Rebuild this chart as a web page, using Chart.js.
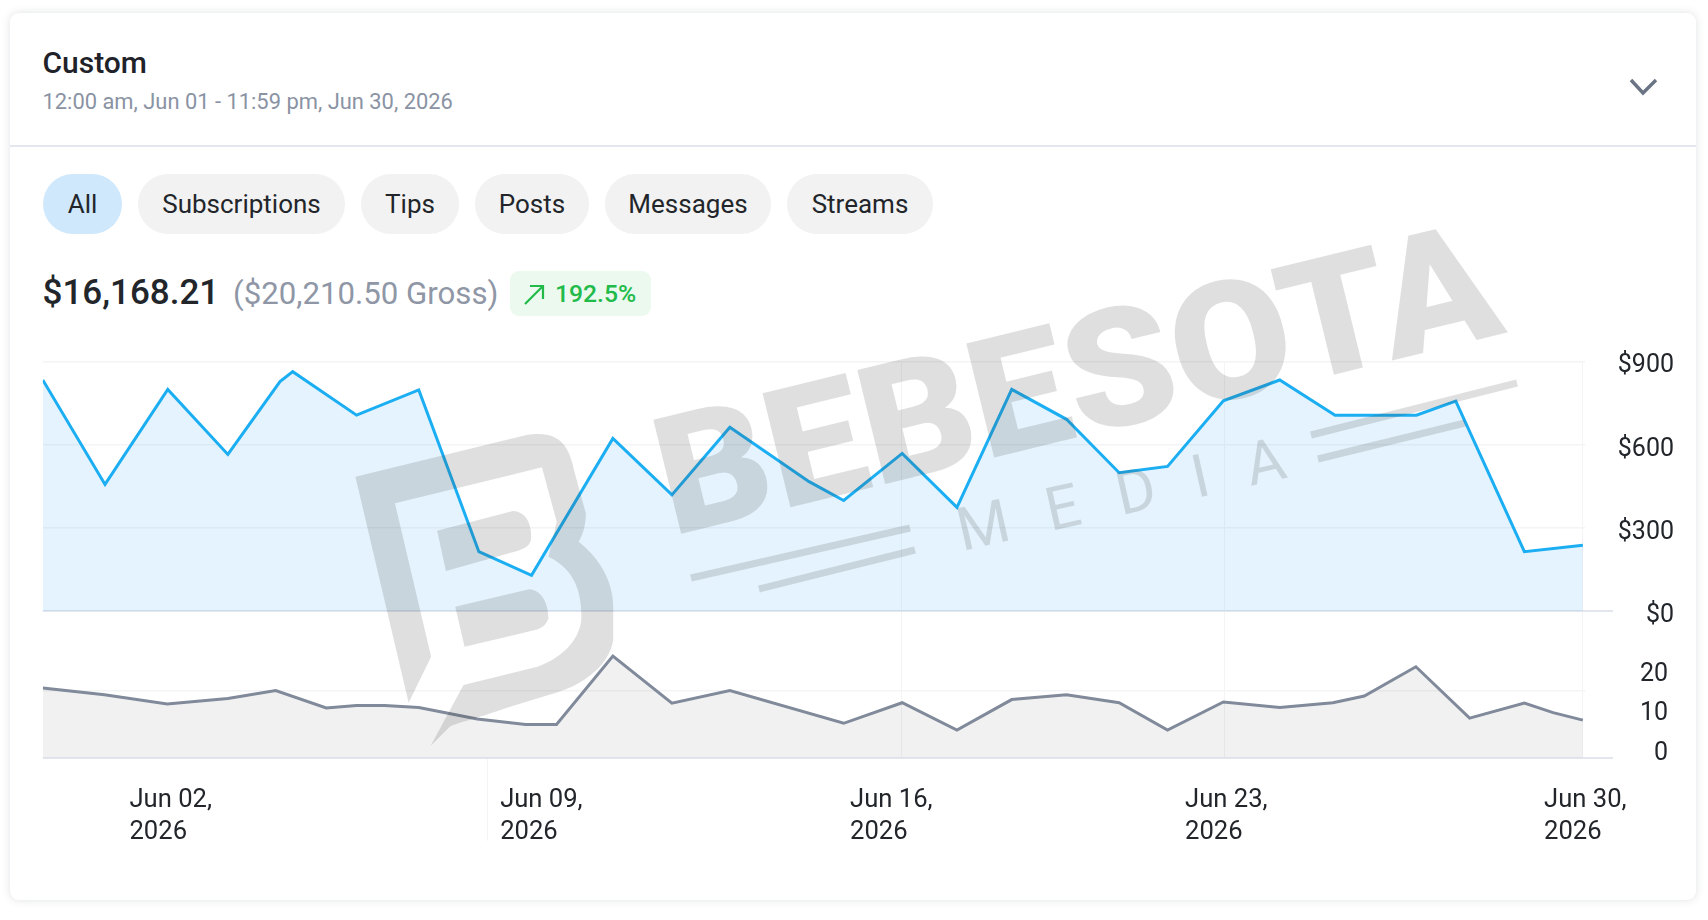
<!DOCTYPE html>
<html><head><meta charset="utf-8">
<script src="https://cdn.jsdelivr.net/npm/chart.js@4/dist/chart.umd.min.js"></script>
<style>
html,body{margin:0;padding:0;background:#fff;width:1708px;height:920px;overflow:hidden;font-family:Roboto,sans-serif;color:#1f2329}
.abs{position:absolute;white-space:nowrap}
#card{left:10px;top:13px;width:1686px;height:887px;border-radius:9px;background:#fff;box-shadow:0 0 8px rgba(60,70,90,.16)}
#divider{left:10px;top:145px;width:1686px;height:2px;background:#e4e7ed}
.pill{top:174px;height:60px;line-height:60px;border-radius:30px;background:#f2f2f2;text-align:center;font-size:26px;color:#22262b}
#chartBox{left:0;top:0;width:1708px;height:920px}
#mark{left:0;top:0;pointer-events:none}
</style></head><body>
<div class="abs" id="card"></div>
<div class="abs" id="divider"></div>
<div class="abs" style="left:42.5px;top:44px;font-size:30px;font-weight:500;line-height:38px">Custom</div>
<div class="abs" style="left:42.5px;top:88px;font-size:21.9px;line-height:28px;color:#8a93a3">12:00 am, Jun 01 - 11:59 pm, Jun 30, 2026</div>
<svg class="abs" width="1708" height="920" style="left:0;top:0"><polyline points="1631,80 1643,93 1656,80" fill="none" stroke="#6b7484" stroke-width="3.4"/></svg>
<div class="abs pill" style="left:43px;width:79px;background:#cfe8fb">All</div>
<div class="abs pill" style="left:138px;width:207px">Subscriptions</div>
<div class="abs pill" style="left:361px;width:98px">Tips</div>
<div class="abs pill" style="left:475px;width:114px">Posts</div>
<div class="abs pill" style="left:605px;width:166px">Messages</div>
<div class="abs pill" style="left:787px;width:146px">Streams</div>
<div class="abs" style="left:42.5px;top:270px;font-size:35px;font-weight:500;line-height:46px;color:#22262b">$16,168.21</div>
<div class="abs" style="left:233px;top:273px;font-size:31.2px;line-height:42px;color:#8f97a6">($20,210.50 Gross)</div>
<div class="abs" style="left:510px;top:271px;width:141px;height:45px;border-radius:9px;background:#ebf9ef"></div>
<svg class="abs" width="1708" height="920" style="left:0;top:0"><path d="M525 304 L543 286 M530 286 H543 V299" fill="none" stroke="#22bb4a" stroke-width="2.2"/></svg>
<div class="abs" style="left:555px;top:278px;font-size:24.7px;font-weight:500;line-height:32px;color:#22bb4a">192.5%</div>
<div class="abs" id="chartBox"><canvas id="c" width="1708" height="920" style="width:1708px;height:920px;display:block"></canvas></div>
<svg class="abs" id="mark" width="1708" height="920" style="opacity:.16">
<g fill="#3c3c3c">
<text x="672" y="536" transform="rotate(-13.7 672 536)" font-family="Roboto" font-weight="900" font-size="165" textLength="860" lengthAdjust="spacingAndGlyphs">BEBESOTA</text>
<text x="962" y="551" transform="rotate(-12.7 962 551)" font-family="Roboto" font-weight="400" font-size="60" textLength="335" lengthAdjust="spacing">MEDIA</text>
<g transform="translate(0,340) scale(0.5485,0.3333)">
<path d="M648 410 L960 285 C1030 265 1040 340 1048 400 L1068 520 C1068 560 1062 585 1055 605 C1090 650 1118 720 1118 800 L1118 900 C1110 980 1060 1040 1000 1065 L930 1100 C880 1130 830 1150 820 1160 L785 1218 L845 1035 L980 980 C1030 950 1060 890 1060 830 C1060 760 1050 690 1000 650 L1015 545 L988 382 L720 490 L786 950 L745 1088 Z"/>
<path d="M797 572 L935 513 C965 515 970 570 968 600 C965 620 955 625 945 632 L813 693 Z"/>
<path d="M830 800 L965 748 C990 750 1000 800 1000 835 C995 860 985 868 968 873 L847 920 Z"/>
</g>
</g>
<g stroke="#3c3c3c" stroke-width="7" fill="none">
<path d="M691 578 L910 528"/><path d="M759 589 L915 550"/>
<path d="M1311 435 L1517 383"/><path d="M1318 459 L1465 423"/>
</g>
</svg>
<script>
const revenueDays=[1,2.17,3.35,4.48,5.46,5.70,6.90,8.07,9.20,10.19,11.72,12.83,13.92,15.41,16.06,17.16,18.19,19.22,20.25,21.24,22.15,23.20,24.26,25.30,26.83,27.57,28.86,29.96];
const revenueValues=[834,457,800,565,828,864,707,798,214,129,623,419,663,467,399,569,374,800,692,499,522,759,834,707,707,758,214,237];
const countDays=[1,2.16,3.34,4.48,5.38,6.33,6.90,7.42,8.07,9.17,10.08,10.66,11.72,12.83,13.92,16.06,17.16,18.19,19.22,20.25,21.24,22.15,23.20,24.26,25.26,25.85,26.82,27.83,28.86,29.40,29.96];
const countValues=[17.6,15.9,13.6,15,17,12.6,13.2,13.2,12.7,9.8,8.4,8.4,25.7,13.8,17,8.7,13.9,7,14.7,15.9,13.9,7,14.1,12.7,13.9,15.6,23,10,13.8,11.4,9.5];
const dateLabels=[["Jun 02,","2026"],["Jun 09,","2026"],["Jun 16,","2026"],["Jun 23,","2026"],["Jun 30,","2026"]];
const dateLabelTicks=[2.63,9.60,16.18,22.48,29.23];
const chartGridTicks=[17.14,23.23,29.96];
const belowAxisTick=[9.37];
const revenueTicks=[0,300,600,900];
const countTicks=[0,10,20];
const countGridTick=16.9;
const pts=(xs,ys)=>xs.map((x,i)=>({x,y:ys[i]}));
const GRID='#f3f4f6',ZERO='#e3e6ec',NONE='rgba(0,0,0,0)';
const tickFont={family:'Roboto',size:25.6,lineHeight:1.25};
const yFont={family:'Roboto',size:25};
const labelEdges={id:'labelEdges',afterLayout(chart){chart.scales.yRevenue.right=1674;chart.scales.yCount.right=1668;}};
new Chart(document.getElementById('c'),{
 type:'line',
 plugins:[labelEdges],
 data:{datasets:[
  {label:'Earnings',data:pts(revenueDays,revenueValues),yAxisID:'yRevenue',xAxisID:'x',borderColor:'#1caef2',backgroundColor:'rgba(20,150,235,.115)',borderWidth:3,pointRadius:0,tension:0,fill:'origin'},
  {label:'Count',data:pts(countDays,countValues),yAxisID:'yCount',xAxisID:'x',borderColor:'#808a9a',backgroundColor:'rgba(0,0,0,.055)',borderWidth:3,pointRadius:0,tension:0,fill:'origin'}
 ]},
 options:{
  responsive:false,animation:false,devicePixelRatio:1,
  layout:{padding:{left:42.8,top:361.7,right:0,bottom:0}},
  plugins:{legend:{display:false},tooltip:{enabled:false}},
  scales:{
   x:{type:'linear',min:1,max:30,position:'bottom',border:{display:false},
    afterBuildTicks(s){s.ticks=[...dateLabelTicks,...chartGridTicks,...belowAxisTick].map(value=>({value}));},
    afterFit(s){s.height=162.3;},
    grid:{tickLength:83,
     color:c=>chartGridTicks.includes(c.tick&&c.tick.value)?GRID:NONE,
     tickColor:c=>belowAxisTick.includes(c.tick&&c.tick.value)?GRID:NONE},
    ticks:{autoSkip:false,maxRotation:0,align:'start',padding:-56,color:'#22262b',font:tickFont,
     callback(v){const i=dateLabelTicks.indexOf(v);return i<0?'':dateLabels[i];}}
   },
   yRevenue:{type:'linear',position:'right',stack:'v',stackWeight:249.3,weight:0,min:0,max:900,border:{display:false},
    afterBuildTicks(s){s.ticks=revenueTicks.map(value=>({value}));},
    afterFit(s){s.width=123;},
    grid:{tickLength:28,color:c=>c.tick&&c.tick.value===0?ZERO:GRID,tickColor:c=>c.tick&&c.tick.value===0?ZERO:NONE,lineWidth:c=>c.tick&&c.tick.value===0?2:1.5},
    ticks:{crossAlign:'far',padding:6,labelOffset:4.5,color:'#22262b',font:yFont,callback:v=>'$'+v}
   },
   yCount:{type:'linear',position:'right',stack:'v',stackWeight:146.7,weight:1,min:0,max:37.1,border:{display:false},
    afterBuildTicks(s){s.ticks=[...countTicks,countGridTick].map(value=>({value}));},
    afterFit(s){s.width=123;},
    grid:{tickLength:28,color:c=>{const v=c.tick&&c.tick.value;return v===0?ZERO:v===countGridTick?GRID:NONE;},tickColor:c=>c.tick&&c.tick.value===0?ZERO:NONE,lineWidth:c=>c.tick&&c.tick.value===0?2:1.5},
    ticks:{crossAlign:'far',padding:6,labelOffset:-4,color:'#22262b',font:yFont,callback:v=>countTicks.includes(v)?String(v):''}
   }
  }
 }
});
</script>
</body></html>
